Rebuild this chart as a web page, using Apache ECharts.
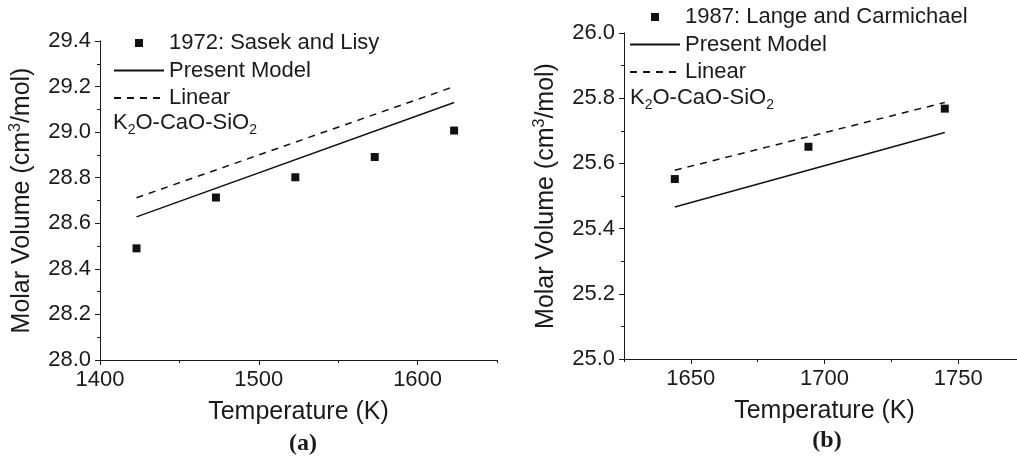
<!DOCTYPE html>
<html><head><meta charset="utf-8">
<script src="https://cdn.jsdelivr.net/npm/echarts@6/dist/echarts.min.js"></script>
<style>html,body{margin:0;padding:0;background:#fff}#c{width:1017px;height:466px}</style>
</head><body><div id="c"></div>
<script>
// ---- data (a) ----
const tempA = [1423, 1473, 1523, 1573, 1623];
const volA = [28.490, 28.713, 28.802, 28.891, 29.007];
const modelTempA = [1423, 1623];
const modelA = [28.628, 29.130];
const linearTempA = [1423, 1623];
const linearA = [28.712, 29.200];
// ---- data (b) ----
const tempB = [1644, 1694, 1745];
const volB = [25.552, 25.651, 25.768];
const modelTempB = [1644, 1745];
const modelB = [25.466, 25.695];
const linearTempB = [1644, 1745];
const linearB = [25.579, 25.787];
// ---- ticks ----
const xMajorA = [1400, 1500, 1600];
const xMinorA = [1450, 1550, 1650];
const xMajorB = [1650, 1700, 1750];
const xMinorB = [1625, 1675, 1725, 1775];
const seriesNameA = '1972: Sasek and Lisy';
const seriesNameB = '1987: Lange and Carmichael';

const FONT = '"Liberation Sans", Arial, sans-serif';
const INK = '#1a1a1a';
const zip = (a, b) => a.map((v, i) => [v, b[i]]);

function xAxes(gridIndex, min, max, major, minor) {
  return [{
    type: 'value', gridIndex, min, max, position: 'bottom',
    name: 'Temperature (K)', nameLocation: 'middle', nameGap: 40,
    nameTextStyle: { fontFamily: FONT, fontSize: 25, color: INK },
    axisLine: { show: true, onZero: false, lineStyle: { color: INK, width: 1 } },
    axisTick: { show: true, length: 5, customValues: major, lineStyle: { color: INK } },
    axisLabel: { show: true, customValues: major, margin: 9, fontFamily: FONT, fontSize: 22, color: INK, formatter: v => String(v) },
    splitLine: { show: false }
  }, {
    type: 'value', gridIndex, min, max, position: 'bottom',
    axisLine: { show: false, onZero: false },
    axisTick: { show: true, length: 3, customValues: minor, lineStyle: { color: INK } },
    axisLabel: { show: false },
    splitLine: { show: false }
  }];
}
function yAxis(gridIndex, min, max) {
  return {
    type: 'value', gridIndex, min, max, interval: 0.2,
    name: '{a|Molar Volume (cm}{sup|3}{a|/mol)}', nameLocation: 'middle', nameGap: 64,
    nameTextStyle: {
      color: INK,
      rich: {
        a: { fontFamily: FONT, fontSize: 25, color: INK },
        sup: { fontFamily: FONT, fontSize: 16, color: INK, padding: [0, 0, 12, 0] }
      }
    },
    axisLine: { show: true, onZero: false, lineStyle: { color: INK, width: 1 } },
    axisTick: { show: true, length: 5, lineStyle: { color: INK } },
    minorTick: { show: true, splitNumber: 2, length: 3, lineStyle: { color: INK } },
    axisLabel: { margin: 9, fontFamily: FONT, fontSize: 22, color: INK, formatter: v => v.toFixed(1) },
    splitLine: { show: false }
  };
}
const squareIcon = 'path://M0,0M21,0h8v8h-8zM50,8';
function legend(left, top, firstName) {
  return {
    orient: 'vertical', left, top, padding: 0, itemWidth: 50, itemHeight: 8, itemGap: 5.5,
    textStyle: { fontFamily: FONT, fontSize: 22, color: INK, lineHeight: 22 },
    selectedMode: false,
    data: [
      { name: firstName, icon: squareIcon, itemStyle: { color: '#111', opacity: 1 } },
      { name: 'Present Model', itemStyle: { opacity: 0 } },
      { name: 'Linear', itemStyle: { opacity: 0 } }
    ]
  };
}
function series(idx, xi, name, pts, mT, m, lT, l) {
  return [{
    type: 'scatter', name, xAxisIndex: xi, yAxisIndex: idx, data: zip(pts[0], pts[1]),
    symbol: 'rect', symbolSize: 8, itemStyle: { color: '#111', opacity: 1 }
  }, {
    type: 'line', name: 'Present Model', xAxisIndex: xi, yAxisIndex: idx, data: zip(mT, m),
    symbol: 'none', showSymbol: false, color: '#111', lineStyle: { color: '#111', width: 1.5, type: 'solid' }
  }, {
    type: 'line', name: 'Linear', xAxisIndex: xi, yAxisIndex: idx, data: zip(lT, l),
    symbol: 'none', showSymbol: false, color: '#111', lineStyle: { color: '#111', width: 1.5, type: [7, 6] }
  }];
}
const chem = '{a|K}{s|2}{a|O-CaO-SiO}{s|2}';
const chemRich = {
  a: { fontFamily: FONT, fontSize: 22, fill: INK, color: INK },
  s: { fontFamily: FONT, fontSize: 14, fill: INK, color: INK, padding: [14, 0, 0, 0] }
};

const chart = echarts.init(document.getElementById('c'), null, { renderer: 'canvas' });
chart.setOption({
  animation: false,
  backgroundColor: '#fff',
  grid: [
    { left: 100, top: 41, width: 397, height: 319, containLabel: false, outerBoundsMode: 'none' },
    { left: 624, top: 33, width: 401, height: 326, containLabel: false, outerBoundsMode: 'none' }
  ],
  xAxis: [...xAxes(0, 1400, 1650, xMajorA, xMinorA), ...xAxes(1, 1625, 1775, xMajorB, xMinorB)],
  yAxis: [yAxis(0, 28.0, 29.4), yAxis(1, 25.0, 26.0)],
  legend: [legend(113, 32, seriesNameA), legend(629, 6, seriesNameB)],
  graphic: [
    { type: 'text', x: 113, y: 123, style: { text: chem, rich: chemRich, verticalAlign: 'middle' } },
    { type: 'text', x: 630, y: 98, style: { text: chem, rich: chemRich, verticalAlign: 'middle' } },
    { type: 'text', x: 303, y: 444, style: { text: '(a)', font: 'bold 24px "Liberation Serif", "Times New Roman", serif', fill: INK, align: 'center', verticalAlign: 'middle' } },
    { type: 'text', x: 827, y: 441, style: { text: '(b)', font: 'bold 24px "Liberation Serif", "Times New Roman", serif', fill: INK, align: 'center', verticalAlign: 'middle' } }
  ],
  series: [
    ...series(0, 0, seriesNameA, [tempA, volA], modelTempA, modelA, linearTempA, linearA),
    ...series(1, 2, seriesNameB, [tempB, volB], modelTempB, modelB, linearTempB, linearB)
  ]
});
</script></body></html>
